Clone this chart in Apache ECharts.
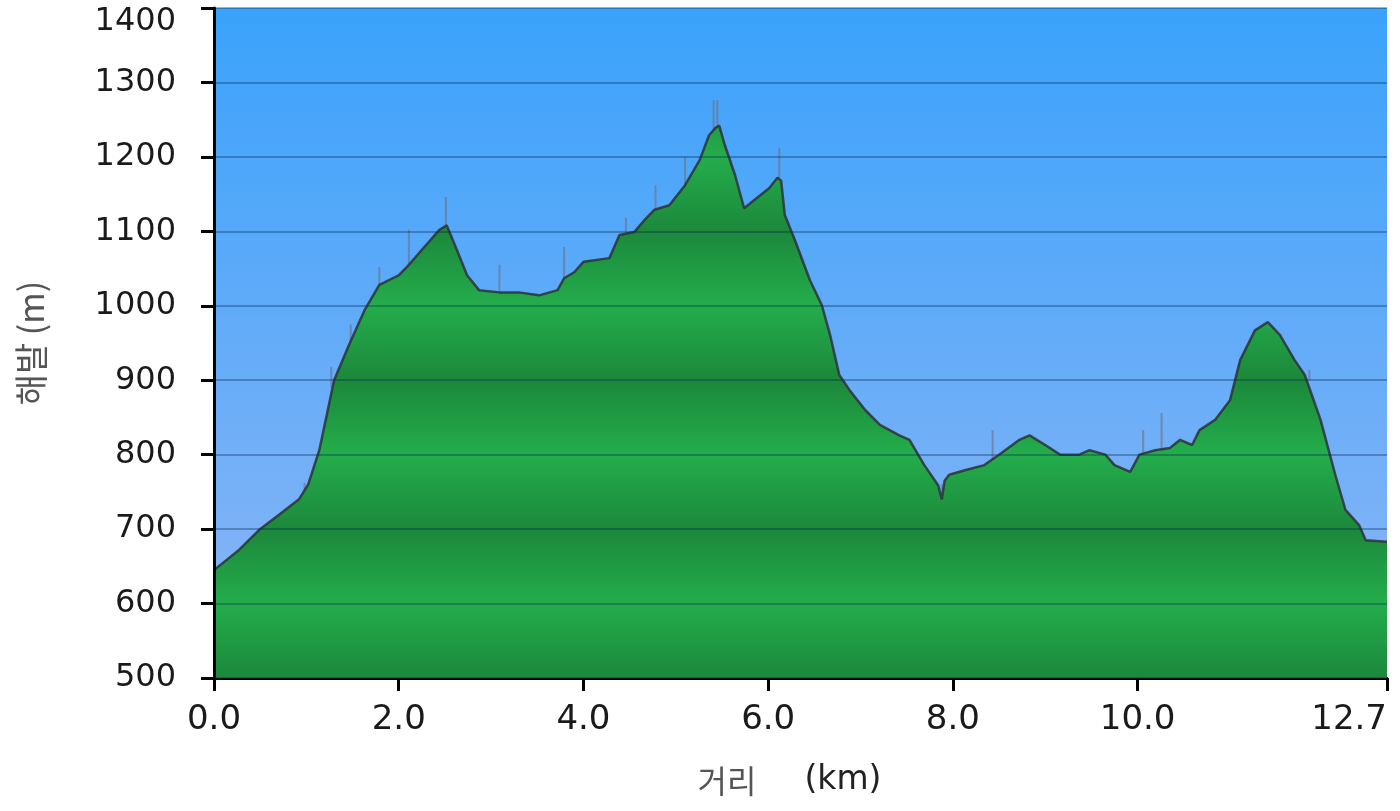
<!DOCTYPE html>
<html><head><meta charset="utf-8">
<script src="https://cdn.jsdelivr.net/npm/echarts@6/dist/echarts.min.js"></script>
<style>html,body{margin:0;padding:0;background:#fff}#c{width:1400px;height:811px}</style>
</head><body><div id="c"></div>
<script>
// distance (km) and elevation (m) of the profile
const distanceKm = [0.00,0.10,0.27,0.49,0.70,0.92,0.98,1.02,1.14,1.30,1.46,1.63,1.79,2.00,2.11,2.27,2.44,2.52,2.63,2.74,2.87,3.09,3.30,3.52,3.72,3.79,3.90,4.00,4.28,4.39,4.55,4.66,4.77,4.93,5.10,5.26,5.36,5.43,5.47,5.53,5.64,5.74,5.85,6.01,6.10,6.14,6.18,6.29,6.45,6.58,6.67,6.77,6.88,7.05,7.21,7.42,7.53,7.69,7.84,7.88,7.91,7.96,8.13,8.34,8.50,8.72,8.83,9.00,9.16,9.37,9.48,9.65,9.75,9.92,10.02,10.19,10.35,10.46,10.59,10.67,10.84,11.00,11.11,11.27,11.41,11.54,11.70,11.81,11.98,12.14,12.25,12.40,12.47,12.70];
const elevationM = [645,655,672,699,719,740,752,760,806,900,947,994,1028,1041,1055,1078,1102,1108,1075,1041,1021,1018,1018,1014,1021,1037,1045,1059,1064,1095,1099,1115,1129,1135,1162,1196,1229,1239,1242,1216,1176,1131,1142,1158,1172,1168,1122,1088,1035,1001,961,907,887,860,840,826,820,786,759,740,765,773,779,786,800,820,826,813,800,800,806,800,786,777,800,806,809,820,813,833,847,873,927,967,978,961,927,907,847,773,726,705,685,683];
// thin raw-data spikes: position, base, top
const spikeKm   = [0.98,1.27,1.48,1.79,2.11,2.51,3.09,3.79,4.46,4.78,5.10,5.41,5.45,6.12,7.88,8.43,10.06,10.26,11.86];
const spikeBase = [752,890,950,1028,1055,1108,1018,1037,1097,1129,1162,1235,1240,1168,760,790,800,806,900];
const spikeTop  = [762,918,975,1052,1102,1146,1055,1079,1118,1162,1200,1276,1276,1212,712,833,833,856,914];
const xTickValues = [0,2,4,6,8,10,12.7];
const yMin = 500, yMax = 1400, yStep = 100;

const profile = distanceKm.map((d,i)=>[d, elevationM[i]]);
const spikes = [];
spikeKm.forEach((d,i)=>{ spikes.push([d, spikeBase[i]], [d, spikeTop[i]], [d, spikeBase[i]], null); });

// banded green gradient (triangle wave every 200 m) in global pixel coords
const plotTop = 8, plotBottom = 678;
const light = '#24ad4c', dark = '#1c883b';
const stops = [];
for (let v = yMax; v >= yMin; v -= yStep) {
  stops.push({offset: (yMax - v)/(yMax - yMin), color: (v % 200 === 0) ? light : dark});
}

const chart = echarts.init(document.getElementById('c'));
chart.setOption({
  animation: false,
  grid: {
    left: 214, right: 13, top: plotTop, bottom: 811 - plotBottom,
    outerBoundsMode: 'none', containLabel: false,
    show: true, borderWidth: 0,
    backgroundColor: {type:'linear', x:0, y:0, x2:0, y2:1,
      colorStops:[{offset:0,color:'#3aa2fb'},{offset:1,color:'#8eb6f6'}]}
  },
  xAxis: {
    type: 'value', min: 0, max: 12.7,
    name: '{a|거리}{s|}{b|(km)}{e|}', nameLocation: 'middle', nameGap: 86,
    nameTextStyle: {rich: {
      a: {fontFamily:'Noto Sans CJK KR', fontSize: 32, color:'#555'},
      s: {width: 48},
      b: {fontFamily:'DejaVu Sans', fontSize: 33, color:'#222'},
      e: {width: 22}
    }},
    axisLine: {show: true, onZero: false, lineStyle: {color:'#000', width: 3}},
    axisTick: {show: true, length: 13, lineStyle: {color:'#000', width: 3}, customValues: xTickValues},
    axisLabel: {customValues: xTickValues, margin: 25, fontFamily:'DejaVu Sans', fontSize: 34, color:'#1a1a1a',
      alignMaxLabel: 'right', formatter: v => v.toFixed(1)},
    splitLine: {show: false}
  },
  yAxis: {
    type: 'value', min: yMin, max: yMax, interval: yStep, z: 3,
    name: '해발 (m)', nameLocation: 'middle', nameRotate: 90, nameGap: 166,
    nameTextStyle: {fontFamily:'Noto Sans CJK KR', fontSize: 34, color:'#555'},
    axisLine: {show: true, lineStyle: {color:'#000', width: 3}},
    axisTick: {show: true, length: 13, lineStyle: {color:'#000', width: 3}},
    axisLabel: {margin: 38, fontFamily:'DejaVu Sans', fontSize: 32, color:'#1a1a1a',
      formatter: v => v === yMax ? '{t|' + v + '}' : String(v),
      rich: {t: {fontFamily:'DejaVu Sans', fontSize: 32, color:'#1a1a1a', padding: [27,0,0,0]}}},
    splitLine: {show: true, lineStyle: {color:'rgba(10,40,80,0.35)', width: 2}}
  },
  series: [
    {
      type: 'line', data: spikes, symbol: 'none', connectNulls: false, z: 1,
      lineStyle: {color: 'rgba(110,110,130,0.6)', width: 2}, silent: true
    },
    {
      type: 'line', data: profile, symbol: 'none', z: 2,
      lineStyle: {color: 'rgba(45,50,55,0.85)', width: 2.5},
      areaStyle: {origin: 'start', opacity: 1,
        color: {type:'linear', x:0, y:plotTop, x2:0, y2:plotBottom, global:true, colorStops: stops}}
    }
  ]
});
</script></body></html>
